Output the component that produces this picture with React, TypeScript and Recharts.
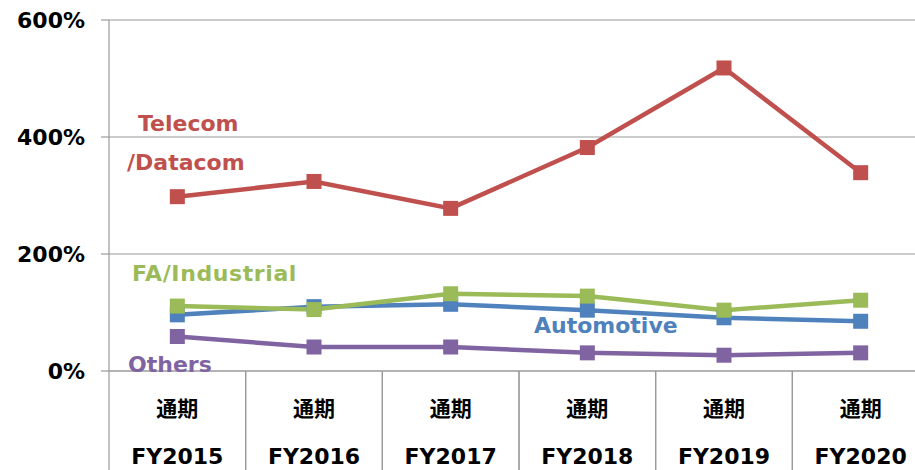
import { LineChart, Line, XAxis, YAxis, CartesianGrid } from 'recharts'

const YEARS = ['FY2015', 'FY2016', 'FY2017', 'FY2018', 'FY2019', 'FY2020']
const PERIOD = '通期'
const telecom = [298, 324, 278, 382, 518, 339]
const industrial = [111, 105, 132, 128, 104, 121]
const automotive = [96, 110, 114, 104, 91, 85]
const others = [59, 41, 41, 31, 27, 31]
const Y_TICKS = [0, 200, 400, 600]

const rows = YEARS.map((year, i) => ({
  year,
  telecom: telecom[i],
  industrial: industrial[i],
  automotive: automotive[i],
  others: others[i]
}))

const W = 935
const H = 470
const MARGIN = { top: 20, right: 6, bottom: 0, left: 0 }
const Y_W = 109
const BAND = (W - MARGIN.left - MARGIN.right - Y_W) / YEARS.length
const GRID = '#9a9a9a'
const FONT = '"DejaVu Sans", Verdana, sans-serif'

const squareDot = (color: string) => (props: any) => {
  const { cx, cy, index } = props
  if (cx == null || cy == null) return <g key={index} />
  return <rect key={index} x={cx - 7.5} y={cy - 7.5} width={15} height={15} fill={color} />
}

function YearTick(props: any) {
  const { x, y, payload } = props
  return (
    <g>
      <line x1={x - BAND / 2} x2={x - BAND / 2} y1={y} y2={H} stroke={GRID} strokeWidth={1.2} />
      <line x1={x + BAND / 2} x2={x + BAND / 2} y1={y} y2={H} stroke={GRID} strokeWidth={1.2} />
      <text x={x} y={y + 45} textAnchor="middle" fontSize={21} fontWeight="bold"
        fontFamily='"Noto Sans CJK JP", sans-serif' fill="#000">{PERIOD}</text>
      <text x={x} y={y + 93} textAnchor="middle" fontSize={22} fontWeight="bold"
        fontFamily={FONT} fill="#000">{payload.value}</text>
    </g>
  )
}

const labelStyle = { fontFamily: FONT, fontWeight: 'bold' as const, fontSize: 22 }

export default function App() {
  return (
    <div style={{ position: 'fixed', left: 0, top: 0, width: 915, height: 470, overflow: 'hidden', background: '#fff' }}>
      <LineChart width={W} height={H} data={rows} margin={MARGIN}>
        <CartesianGrid vertical={false} stroke={GRID} strokeWidth={1.2} />
        <XAxis
          dataKey="year"
          scale="band"
          height={H - MARGIN.top - 351}
          interval={0}
          tickSize={0}
          tickMargin={0}
          tickLine={false}
          axisLine={{ stroke: GRID, strokeWidth: 1.2 }}
          tick={<YearTick />}
        />
        <YAxis
          width={Y_W}
          domain={[0, 600]}
          ticks={Y_TICKS}
          tickFormatter={(v: number) => `${v}%`}
          tickSize={8}
          tickMargin={16}
          axisLine={{ stroke: GRID, strokeWidth: 1.2 }}
          tickLine={{ stroke: GRID, strokeWidth: 1.2 }}
          tick={{ fill: '#000', fontSize: 22, fontWeight: 'bold', fontFamily: FONT }}
        />
        <Line dataKey="others" stroke="#8064A2" strokeWidth={4.5} dot={squareDot('#8064A2')} isAnimationActive={false} />
        <Line dataKey="automotive" stroke="#4F81BD" strokeWidth={4.5} dot={squareDot('#4F81BD')} isAnimationActive={false} />
        <Line dataKey="industrial" stroke="#9BBB59" strokeWidth={4.5} dot={squareDot('#9BBB59')} isAnimationActive={false} />
        <Line dataKey="telecom" stroke="#C0504D" strokeWidth={4.5} dot={squareDot('#C0504D')} isAnimationActive={false} />
      </LineChart>
      <svg width={915} height={470} style={{ position: 'absolute', left: 0, top: 0, pointerEvents: 'none' }}>
        <text x={138} y={131} fill="#C0504D" style={labelStyle}>Telecom</text>
        <text x={127} y={170} fill="#C0504D" style={labelStyle}>/Datacom</text>
        <text x={132} y={281} fill="#9BBB59" style={{ ...labelStyle, letterSpacing: 0.6 }}>FA/Industrial</text>
        <text x={534} y={333} fill="#4F81BD" style={labelStyle}>Automotive</text>
        <text x={128} y={372} fill="#8064A2" style={labelStyle}>Others</text>
      </svg>
    </div>
  )
}
